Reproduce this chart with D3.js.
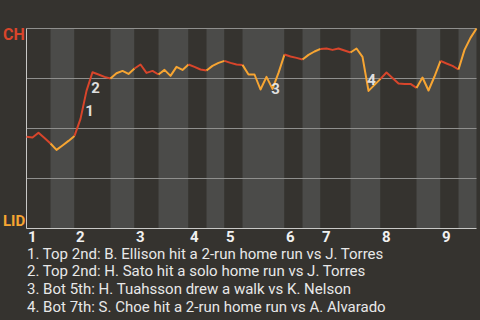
<!DOCTYPE html>
<html><head><meta charset="utf-8">
<script src="https://cdn.jsdelivr.net/npm/d3@7"></script>
<style>
html,body{margin:0;padding:0;background:#35332f;}
svg{display:block;font-family:Roboto,"Noto Sans",sans-serif;}
</style></head>
<body><svg id="c" width="480" height="320"></svg>
<script>
// ---- data ----
const teams = ["CH", "LID"];                  // top = CH (away), bottom = LID (home)
const innings = ["1","2","3","4","5","6","7","8","9"];
// plate-appearance index at which each half inning ends (starts at 0)
const halfEnds = [4,8,14,18,22,27,30,33,36,43,46,49,54,59,65,69,72,75];
// CH win probability (%) after each plate appearance (index 0 = pregame)
const chWinProb = [
  45.9,45.5,47.9,45.3,42.5,39.3,41.5,43.8,46.3,54.8,
  68.8,78.1,77.0,75.8,75.0,77.6,78.8,77.3,80.0,82.0,
  77.8,78.8,77.0,79.3,76.3,80.8,79.3,82.0,80.8,79.5,
  79.0,81.3,82.8,83.8,82.8,82.0,81.8,77.0,77.0,69.5,
  75.8,69.8,77.8,87.0,86.0,85.3,84.5,86.8,88.5,89.8,
  90.0,89.3,90.0,89.0,88.0,90.0,85.8,68.8,71.8,74.8,
  78.0,75.3,72.5,72.3,72.3,70.3,75.5,69.0,76.0,83.8,
  82.5,81.3,79.5,89.3,95.3,100
];
const eventIndex = [10, 11, 41, 57];
const eventText = [
  "1. Top 2nd: B. Ellison hit a 2-run home run vs J. Torres",
  "2. Top 2nd: H. Sato hit a solo home run vs J. Torres",
  "3. Bot 5th: H. Tuahsson drew a walk vs K. Nelson",
  "4. Bot 7th: S. Choe hit a 2-run home run vs A. Alvarado"
];
const gridTicks = [0, 25, 50, 75, 100];

// ---- drawing ----
const svg = d3.select("#c");
const RED = "#d8452b", ORANGE = "#f7a532";
const N = chWinProb.length - 1;
const x = d3.scaleLinear().domain([0, N]).range([26.5, 476.5]);
const y = d3.scaleLinear().domain([0, 100]).range([228.5, 28.5]);

const halves = halfEnds.map((e, i) => ({start: i === 0 ? 0 : halfEnds[i-1], end: e, top: i % 2 === 0}));

// bands
svg.append("g").selectAll("rect").data(halves).join("rect")
  .attr("x", d => x(d.start)).attr("width", d => x(d.end) - x(d.start))
  .attr("y", y(100)).attr("height", y(0) - y(100))
  .attr("fill", d => d.top ? "#35332f" : "#4b4b49");

// grid lines
svg.append("g").selectAll("line").data(gridTicks.filter(t => t > 0)).join("line")
  .attr("x1", x(0)).attr("x2", x(N)).attr("y1", d => y(d)).attr("y2", d => y(d))
  .attr("stroke", "#8f8f8d").attr("stroke-width", 1);

// axes borders
svg.append("line").attr("x1", x(0)).attr("x2", x(0)).attr("y1", y(100)).attr("y2", y(0))
  .attr("stroke", "#c8c8c6");
svg.append("line").attr("x1", x(0)).attr("x2", x(N)).attr("y1", y(0)).attr("y2", y(0))
  .attr("stroke", "#c8c8c6");

// lines, one per half inning
const line = d3.line().x(i => x(i)).y(i => y(chWinProb[i]));
svg.append("g").selectAll("path").data(halves).join("path")
  .attr("d", d => line(d3.range(d.start, d.end + 1)))
  .attr("fill", "none")
  .attr("stroke", d => d.top ? RED : ORANGE)
  .attr("stroke-width", 2)
  .attr("stroke-linejoin", "round");

// event markers
svg.append("g").selectAll("text").data(eventIndex).join("text")
  .attr("x", i => (x(i-1) + x(i)) / 2 + 6)
  .attr("y", i => (y(chWinProb[i-1]) + y(chWinProb[i])) / 2 + 11.5)
  .attr("text-anchor", "middle")
  .attr("font-size", 15).attr("font-weight", "bold")
  .attr("fill", "#f0f0f0").attr("fill-opacity", 0.92)
  .text((d, k) => k + 1);

// team labels
svg.append("text").attr("x", 3).attr("y", 40).attr("font-size", 16).attr("font-weight", "bold")
  .attr("fill", RED).text(teams[0]);
svg.append("text").attr("x", 3).attr("y", 226).attr("font-size", 15).attr("font-weight", "bold")
  .attr("fill", ORANGE).text(teams[1]);

// inning labels
svg.append("g").selectAll("text").data(innings).join("text")
  .attr("x", (d, i) => x(halves[i*2].start) + 1.5)
  .attr("y", 242)
  .attr("font-size", 15).attr("font-weight", "bold")
  .attr("fill", "#f0f0f0")
  .text(d => d);

// event descriptions
svg.append("g").selectAll("text").data(eventText).join("text")
  .attr("x", 27).attr("y", (d, i) => 258.5 + i * 17.8)
  .attr("font-size", 15).attr("fill", "#e8e8e8")
  .text(d => d);
</script></body></html>
